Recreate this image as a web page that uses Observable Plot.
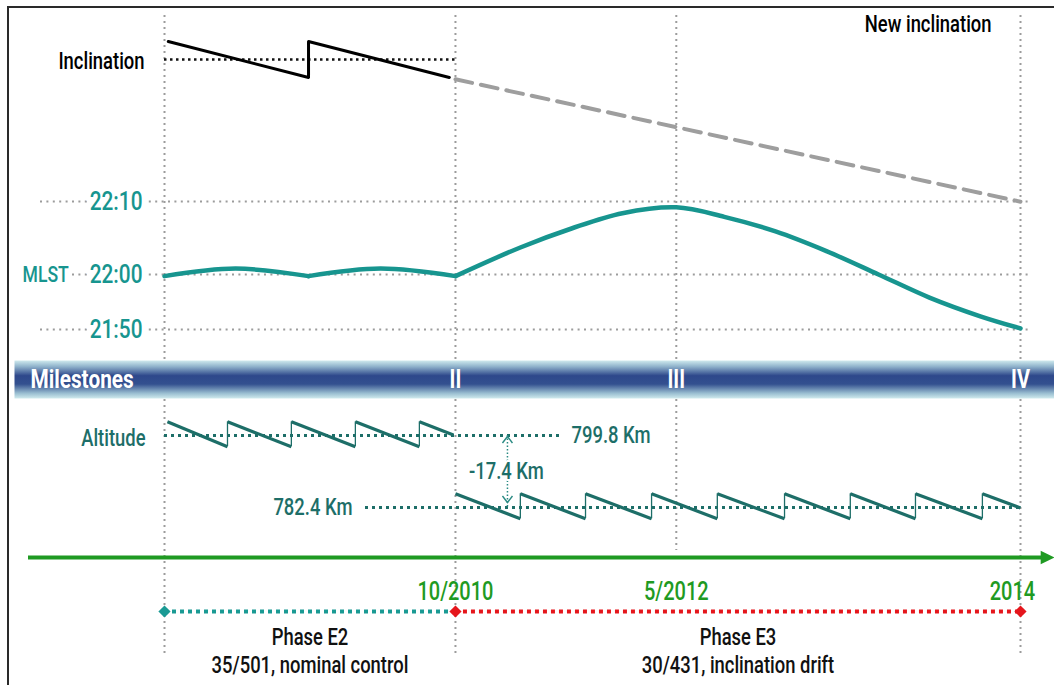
<!DOCTYPE html>
<html><head><meta charset="utf-8">
<script src="https://cdn.jsdelivr.net/npm/d3@7"></script>
<script src="https://cdn.jsdelivr.net/npm/@observablehq/plot@0.6"></script>
<style>
body{margin:0;background:#fff;}
#chart{position:relative;width:1054px;height:685px;overflow:hidden;background:#fff;}
#chart svg{position:absolute;left:0;top:0;overflow:visible;}
#border{position:absolute;left:7px;top:6px;width:1100px;height:700px;border-left:2px solid #2a2a2a;border-top:2px solid #2a2a2a;}
</style></head><body><div id="chart"></div>
<script>
// ---------------- DATA ----------------
// schematic timeline position: start of phase E2 = 0, milestone II = 1
const milestoneLabels = ["", "II", "III", "IV"];
const milestoneDates  = ["", "10/2010", "5/2012", "2014"];
const milestonePos    = [0, 1, 1.759, 2.942];

const phaseNames   = ["Phase E2", "Phase E3"];
const phaseDetails = ["35/501, nominal control", "30/431, inclination drift"];
const phaseStart   = [0, 1];
const phaseEnd     = [1, 2.942];
const phaseColors  = ["#1a9a94", "#e5161c"];

// Inclination (schematic offset units, 0 = nominal)
const inclNominal = 0;
const inclT = [0.013, 0.495, 0.495, 0.979];
const inclV = [1, -1, 1, -1];
const driftT = [1, 2.942];
const driftV = [-1.1, -7.9];

// MLST in minutes after midnight (22:00 = 1320)
const mlstTicks = [1330, 1320, 1310];
const mlstTickSpacing = [0, 0.43, 1]; // uneven spacing of the schematic MLST axis (21:50, 22:00, 22:10)
const mlstSeg = ["a", "a", "a", "b", "b", "b",
  "c","c","c","c","c","c","c","c","c","c","c","c"];
const mlstT = [0, 0.244, 0.495, 0.495, 0.742, 1,
  1, 1.223, 1.399, 1.574, 1.759, 1.924, 2.100, 2.275, 2.454, 2.629, 2.804, 2.942];
const mlstV = [1319.7, 1320.8, 1319.7, 1319.7, 1320.8, 1319.7,
  1319.7, 1323.7, 1326.3, 1328.4, 1329.2, 1327.9, 1325.9, 1323.2, 1320.0, 1315.8, 1312.4, 1310.2];

// Altitude (km)
const altUpper = 799.8;
const altLower = 782.4;
// sawtooth teeth: start position/value, end position/value
const toothT1 = [0.01, 0.2165, 0.436, 0.656, 0.876,
  1, 1.223, 1.447, 1.674, 1.900, 2.131, 2.357, 2.581, 2.811];
const toothT2 = [0.2165, 0.436, 0.656, 0.876, 0.993,
  1.223, 1.447, 1.674, 1.900, 2.131, 2.357, 2.581, 2.811, 2.942];
const toothV1 = [803.1, 803.1, 803.1, 803.1, 803.1,
  785.7, 785.7, 785.7, 785.7, 785.7, 785.7, 785.7, 785.7, 785.7];
const toothV2 = [797.1, 797.1, 797.1, 797.1, 799.9,
  779.7, 779.7, 779.7, 779.7, 779.7, 779.7, 779.7, 779.7, 782.3];

// ---------------- TABLES ----------------
const milestones = milestonePos.map((t, i) => ({t, label: milestoneLabels[i], date: milestoneDates[i]}));
const phases = phaseNames.map((name, i) => ({name, detail: phaseDetails[i], start: phaseStart[i], end: phaseEnd[i], color: phaseColors[i]}));
const phaseMarkers = [
  {t: phaseStart[0], color: phaseColors[0]},
  {t: phaseStart[1], color: phaseColors[1]},
  {t: phaseEnd[1], color: phaseColors[1]}
];
const inclination = inclT.map((t, i) => ({t, v: inclV[i]}));
const inclDrift = driftT.map((t, i) => ({t, v: driftV[i]}));
const mlst = mlstT.map((t, i) => ({t, v: mlstV[i], seg: mlstSeg[i]}));
const teeth = toothT1.map((t1, i) => ({t1, t2: toothT2[i], v1: toothV1[i], v2: toothV2[i]}));
const jumps = teeth.slice(1).filter((d, i) => teeth[i].t2 === d.t1)
  .map(d => ({t: d.t1, lo: teeth.find(e => e.t2 === d.t1).v2, hi: d.v1}));
const mlstWarp = d3.scaleLinear().domain([...mlstTicks].sort(d3.ascending)).range(mlstTickSpacing);

// ---------------- STYLE ----------------
const FONT = "Roboto, 'Liberation Sans', 'DejaVu Sans', sans-serif";
const CONDENSE = 0.8;
const GRAY = "#9c9c9c";
const TEAL = "#17958f";
const DTEAL = "#1d6e68";
const GREEN = "#1f9a22";
const W = 1054, H = 685;
const XS = {domain: [milestonePos[0], milestonePos[3]], range: [164, 1020], axis: null};
const chart = document.getElementById("chart");

function layer(opts) {
  const {y, ...rest} = opts;
  const svg = Plot.plot({
    width: W, height: H,
    marginTop: 0, marginRight: 0, marginBottom: 0, marginLeft: 0,
    ...rest,
    x: XS,
    y: y ? {...y, axis: null} : {axis: null},
    style: {background: "transparent", overflow: "visible", fontFamily: FONT}
  });
  chart.appendChild(svg);
  return svg;
}
const fmtTime = d => `${Math.floor(d / 60)}:${String(d % 60).padStart(2, "0")}`;
const halo = {stroke: "white", strokeWidth: 12, paintOrder: "stroke"};
const T = {fontWeight: 500};
const chevronUp = {draw(ctx, size) { const r = Math.sqrt(size / Math.PI); ctx.moveTo(-r, r * 1.3); ctx.lineTo(0, 0); ctx.lineTo(r, r * 1.3); }};
const chevronDown = {draw(ctx, size) { const r = Math.sqrt(size / Math.PI); ctx.moveTo(-r, -r * 1.3); ctx.lineTo(0, 0); ctx.lineTo(r, -r * 1.3); }};
const rightTriangle = {draw(ctx, size) { const r = Math.sqrt(size / Math.PI); ctx.moveTo(-r, -r); ctx.lineTo(r, 0); ctx.lineTo(-r, r); ctx.closePath(); }};

// vertical milestone grid lines
layer({marginTop: 15, marginBottom: 29, marks: [
  Plot.ruleX(milestones.filter(d => d.label !== "III"), {x: "t", stroke: GRAY, strokeWidth: 2, strokeDasharray: "2 4"})
]});
layer({marginTop: 15, marginBottom: 135, marks: [
  Plot.ruleX(milestones.filter(d => d.label === "III"), {x: "t", stroke: GRAY, strokeWidth: 2, strokeDasharray: "2 4"})
]});

// inclination
layer({marginTop: 15, marginRight: 63,
  y: {domain: [-1, 1], range: [77, 41]},
  marks: [
    Plot.ruleY([inclNominal], {x1: phaseStart[0], x2: phaseEnd[0], stroke: "#111", strokeWidth: 2.6, strokeDasharray: "2.5 3.5"}),
    Plot.line(inclination, {x: "t", y: "v", stroke: "#000", strokeWidth: 3}),
    Plot.line(inclDrift, {x: "t", y: "v", stroke: "#9e9e9e", strokeWidth: 4, strokeDasharray: "17 9"}),
    Plot.text(["Inclination"], {x: () => milestonePos[0], y: () => inclNominal, text: d => d, textAnchor: "end", dx: -20, dy: 2, fontSize: 23, fill: "#000", ...T}),
    Plot.text(["New inclination"], {frameAnchor: "top-right", text: d => d, textAnchor: "end", lineAnchor: "top", fontSize: 23, fill: "#000", ...T})
  ]});

// MLST
layer({marginLeft: 40, marginRight: 26,
  y: {domain: [0, 1], range: [329, 201]},
  marks: [
    Plot.ruleY(mlstTicks, {y: d => mlstWarp(d), stroke: GRAY, strokeWidth: 2, strokeDasharray: "2 4.4"}),
    Plot.text(mlstTicks, {x: () => milestonePos[0], y: d => mlstWarp(d), text: fmtTime, textAnchor: "end", dx: -22, fill: TEAL, fontSize: 26, ...T, ...halo}),
    Plot.text(["MLST"], {frameAnchor: "left", y: () => mlstWarp(1320), text: d => d, textAnchor: "start", dx: -18, fill: TEAL, fontSize: 22, ...T, ...halo}),
    Plot.line(mlst, {x: "t", y: d => mlstWarp(d.v), z: "seg", curve: "catmull-rom", stroke: TEAL, strokeWidth: 4.5})
  ]});

// milestones bar
const bar = layer({marginTop: 360, marginBottom: H - 398, marginLeft: 14, marks: [
  Plot.frame({fill: "url(#msGrad)", stroke: "none"}),
  Plot.text(["Milestones"], {frameAnchor: "left", text: d => d, dx: 16, textAnchor: "start", fill: "white", fontSize: 26, fontWeight: "bold"}),
  Plot.text(milestones.filter(d => d.label), {x: "t", text: "label", fill: "white", fontSize: 25, fontWeight: "bold"})
]});
const defs = d3.select(bar).insert("defs", ":first-child");
const grad = defs.append("linearGradient").attr("id", "msGrad").attr("x1", 0).attr("y1", 0).attr("x2", 0).attr("y2", 1);
[["0%", "#cfeaee"], ["16%", "#8fb2cb"], ["40%", "#2e488b"], ["62%", "#33508f"], ["86%", "#99bdd0"], ["100%", "#d0ebee"]]
  .forEach(([o, c]) => grad.append("stop").attr("offset", o).attr("stop-color", c));

// altitude
const altY = {domain: [altLower, altUpper], range: [507, 435]};
layer({marginLeft: 164, marginRight: 495, y: altY, marks: [
  Plot.ruleY([altUpper], {stroke: DTEAL, strokeWidth: 3, strokeDasharray: "3 4"}),
  Plot.text([altUpper], {frameAnchor: "right", y: d => d, text: d => `${d} Km`, textAnchor: "start", dx: 12, fill: DTEAL, fontSize: 23, ...T}),
  Plot.text(["Altitude"], {frameAnchor: "left", y: () => altUpper, text: d => d, textAnchor: "end", dx: -19, dy: 3, fill: DTEAL, fontSize: 23, ...T})
]});
layer({marginLeft: 365, marginRight: 34, y: altY, marks: [
  Plot.ruleY([altLower], {stroke: DTEAL, strokeWidth: 3, strokeDasharray: "3 4"}),
  Plot.text([altLower], {frameAnchor: "left", y: d => d, text: d => `${d} Km`, textAnchor: "end", dx: -13, fill: DTEAL, fontSize: 23, ...T})
]});
const gap = [{a: altUpper, b: altLower}];
layer({y: altY, marks: [
  Plot.link(teeth, {x1: "t1", y1: "v1", x2: "t2", y2: "v2", stroke: DTEAL, strokeWidth: 3.2}),
  Plot.ruleX(jumps, {x: "t", y1: "lo", y2: "hi", stroke: DTEAL, strokeWidth: 1.3}),
  Plot.ruleX(gap, {x: () => milestonePos[1], y1: "a", y2: "b", dx: 52, stroke: "#2a8a83", strokeWidth: 1.5, strokeDasharray: "1.5 2"}),
  Plot.dot(gap, {x: () => milestonePos[1], y: "a", dx: 52, dy: 1, symbol: chevronUp, r: 5, fill: "none", stroke: "#2a8a83", strokeWidth: 1.4}),
  Plot.dot(gap, {x: () => milestonePos[1], y: "b", dx: 52, dy: -5, symbol: chevronDown, r: 5, fill: "none", stroke: "#2a8a83", strokeWidth: 1.4}),
  Plot.text(gap, {x: () => milestonePos[1], y: d => (d.a + d.b) / 2, text: d => `${(d.b - d.a).toFixed(1)} Km`,
    dx: 51, fill: DTEAL, fontSize: 23, ...T, ...halo, strokeWidth: 4})
]});

// timeline
const rows = ["axis", "dates", "phase", "names", "details"];
layer({marginLeft: 28, marginRight: 12,
  y: {type: "point", domain: rows, range: [556, 666], padding: 0},
  color: {type: "identity"},
  marks: [
    Plot.ruleY(["axis"], {y: d => d, stroke: GREEN, strokeWidth: 4}),
    Plot.dot(["axis"], {y: d => d, frameAnchor: "right", dx: 5, symbol: rightTriangle, r: 6.8, fill: GREEN, stroke: "none"}),
    Plot.text(milestones.filter(d => d.date && d.label !== "IV"), {x: "t", y: () => "dates", text: "date", dy: 7, fill: GREEN, fontSize: 25, ...T}),
    Plot.text(milestones.filter(d => d.label === "IV"), {x: "t", y: () => "dates", text: "date", dy: 7, dx: -8, fill: GREEN, fontSize: 25, ...T}),
    Plot.ruleY(phases, {y: () => "phase", x1: "start", x2: "end", stroke: "color", strokeWidth: 4, strokeDasharray: "4 4"}),
    Plot.dot(phaseMarkers, {x: "t", y: () => "phase", fill: "color", symbol: "diamond2", r: 5.5, stroke: "none"}),
    Plot.text(phases, {x: d => (d.start + d.end) / 2, y: () => "names", text: "name", dy: -1, fill: "#111", fontSize: 23, ...T}),
    Plot.text(phases, {x: d => (d.start + d.end) / 2, y: () => "details", text: "detail", fill: "#111", fontSize: 23, ...T})
  ]});

// condensed lettering like the original's narrow typeface
chart.querySelectorAll("text").forEach(t => {
  const L = t.getComputedTextLength();
  if (L > 0) { t.setAttribute("textLength", (L * CONDENSE).toFixed(1)); t.setAttribute("lengthAdjust", "spacingAndGlyphs"); }
});

const border = document.createElement("div");
border.id = "border";
chart.appendChild(border);
</script></body></html>
